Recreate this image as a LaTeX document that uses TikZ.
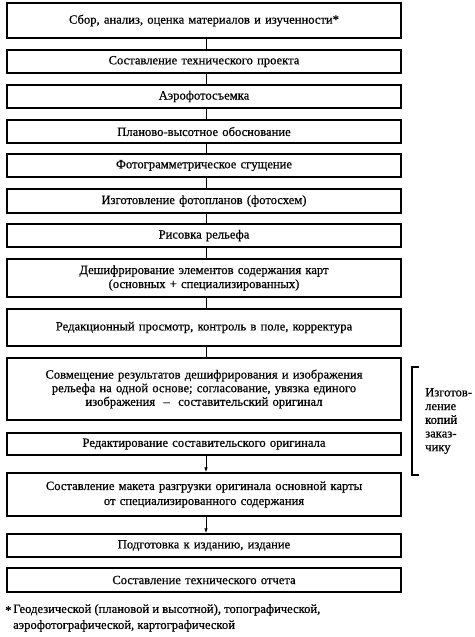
\documentclass[tikz,border=0pt]{standalone}
\usepackage{fontspec}
\setmainfont{Liberation Serif}[FakeBold=0.6]
\usetikzlibrary{arrows.meta}
\begin{document}
\begin{tikzpicture}[x=1pt,y=-1pt,
  stagebox/.style={draw,line width=1.2pt,minimum width=394pt,inner sep=0pt,
    text width=390pt,align=center,font=\fontsize{12.6}{14}\selectfont},
  link/.style={line width=1pt},
  arr/.style={line width=1pt,-{Latex[length=5pt,width=3.5pt]}}]
\useasboundingbox (0,0) rectangle (474,637);
\fill[white] (0,0) rectangle (474,637);
\node[stagebox,minimum height=35pt] (b1) at (204,20.5) {Сбор, анализ, оценка материалов и изученности*};
\node[stagebox,minimum height=23pt] (b2) at (204,61.5) {Составление технического проекта};
\node[stagebox,minimum height=23pt] (b3) at (204,96.5) {Аэрофотосъемка};
\node[stagebox,minimum height=23pt] (b4) at (204,131.5) {Планово-высотное обоснование};
\node[stagebox,minimum height=23pt] (b5) at (204,165.5) {Фотограмметрическое сгущение};
\node[stagebox,minimum height=24pt] (b6) at (204,201) {Изготовление фотопланов (фотосхем)};
\node[stagebox,minimum height=23pt] (b7) at (204,235.5) {Рисовка рельефа};
\node[stagebox,minimum height=38pt] (b8) at (204,278) {Дешифрирование элементов содержания карт\\(основных + специализированных)};
\node[stagebox,minimum height=37pt] (b9) at (204,327.5) {Редакционный просмотр, контроль в поле, корректура};
\node[stagebox,minimum height=62pt,font=\fontsize{12.6}{13.6}\selectfont] (b10) at (204,389) {Совмещение результатов дешифрирования и изображения\\рельефа на одной основе; согласование, увязка единого\\изображения \ – \ составительский оригинал};
\node[stagebox,minimum height=22pt] (b11) at (204,444) {Редактирование составительского оригинала};
\node[stagebox,minimum height=43pt,font=\fontsize{12.6}{15}\selectfont] (b12) at (204,494.5) {Составление макета разгрузки оригинала основной карты\\от специализированного содержания};
\node[stagebox,minimum height=23pt] (b13) at (204,545.5) {Подготовка к изданию, издание};
\node[stagebox,minimum height=24pt] (b14) at (204,580) {Составление технического отчета};
\foreach \a/\b in {b1/b2,b2/b3,b3/b4,b4/b5,b5/b6,b6/b7,b7/b8,b8/b9,b9/b10}
  \draw[link] ([xshift=2pt]\a.south) -- ([xshift=2pt]\b.north);
\draw[arr] ([xshift=2pt]b11.south) -- ([xshift=2pt]b12.north);
\draw[arr] ([xshift=2pt]b12.south) -- ([xshift=2pt]b13.north);
% bracket
\coordinate (bt) at (419,367);
\coordinate (bb) at (419,475);
\draw[line width=1.1pt] (bt) -| (412,475) -- (bb);
\node[anchor=west,align=left,inner sep=0pt,font=\fontsize{12.6}{13.7}\selectfont] (side) at (425,421)
  {Изготов-\\ление\\копий\\заказ-\\чику};
% footnote
\node[anchor=north west,inner sep=0pt,font=\fontsize{12.6}{14}\selectfont] (ast) at (5,606) {*};
\node[anchor=north west,align=left,inner sep=0pt,font=\fontsize{12.6}{16}\selectfont] (foot) at (13,604)
  {Геодезической (плановой и высотной), топографической,\\аэрофотографической, картографической};
\end{tikzpicture}
\end{document}
